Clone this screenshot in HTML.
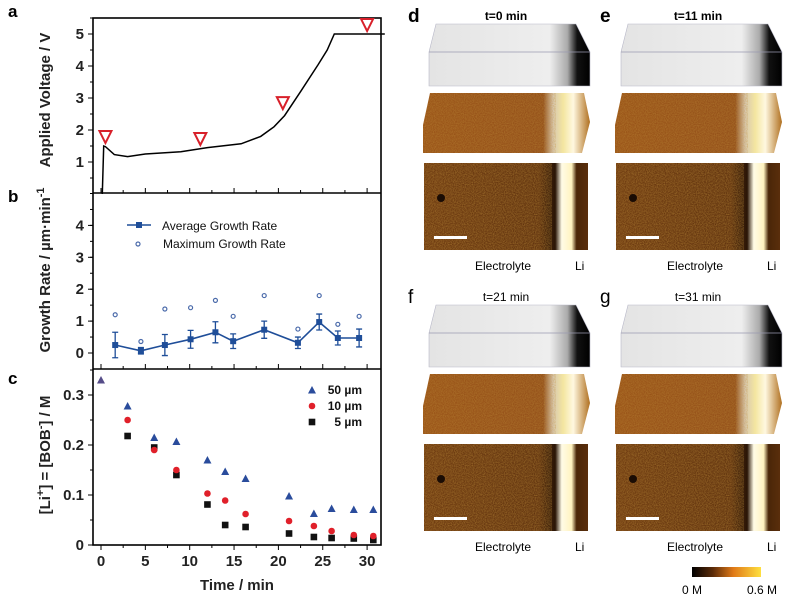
<!DOCTYPE html>
<html><head><meta charset="utf-8"><style>
body{margin:0;background:#fff;width:792px;height:610px;overflow:hidden;font-family:"Liberation Sans",Arial,sans-serif}
svg{position:absolute;left:0;top:0}
</style></head><body>
<svg width="792" height="610" viewBox="0 0 792 610" font-family="Liberation Sans, Arial, sans-serif">
<defs>
<filter id="noise" x="0" y="0" width="100%" height="100%"><feTurbulence type="fractalNoise" baseFrequency="0.9" numOctaves="2" seed="3"/><feColorMatrix type="matrix" values="0 0 0 0 0.55  0 0 0 0 0.3  0 0 0 0 0.05  0 0 0 1.2 -0.3"/><feComposite in2="SourceGraphic" operator="in"/></filter>
<linearGradient id="grey" x1="0" x2="1"><stop offset="0" stop-color="#e4e4e4"/><stop offset="0.75" stop-color="#eeeeee"/><stop offset="0.86" stop-color="#aaa"/><stop offset="0.92" stop-color="#111"/><stop offset="1" stop-color="#000"/></linearGradient>
<linearGradient id="orange" x1="0" x2="1"><stop offset="0" stop-color="#9a5418"/><stop offset="0.72" stop-color="#94501a"/><stop offset="0.78" stop-color="#d8c8b0"/><stop offset="0.84" stop-color="#f4e6a0"/><stop offset="0.9" stop-color="#fff8e0"/><stop offset="1" stop-color="#b07020"/></linearGradient>
<linearGradient id="flat" x1="0" x2="1"><stop offset="0" stop-color="#6e3a10"/><stop offset="0.7" stop-color="#60320e"/><stop offset="0.8" stop-color="#2a1506"/><stop offset="0.84" stop-color="#fffbe6"/><stop offset="0.9" stop-color="#fff3c0"/><stop offset="0.93" stop-color="#4a2608"/><stop offset="1" stop-color="#5a2e0c"/></linearGradient>
<linearGradient id="cbar" x1="0" x2="1"><stop offset="0" stop-color="#000"/><stop offset="0.3" stop-color="#5a2a08"/><stop offset="0.6" stop-color="#e07a18"/><stop offset="1" stop-color="#ffe040"/></linearGradient>
</defs>
<g id="left"></g>
<g id="right"></g>
</svg>
<script>
// ---- data ----
const voltT = [0.15,0.3,0.5,1.5,3,5,9,12,15.8,18,19.5,20.7,22.5,24.5,25.5,26.3,32];
const voltV = [0,1.5,1.48,1.23,1.17,1.25,1.32,1.45,1.57,1.8,2.1,2.45,3.2,4.05,4.5,5.0,5.0];
const markT = [0.5,11.2,20.5,30];
const markV = [1.78,1.72,2.84,5.28];
const growT = [1.6,4.5,7.2,10.1,12.9,14.9,18.4,22.2,24.6,26.7,29.1];
const growAvg = [0.25,0.07,0.25,0.43,0.65,0.37,0.73,0.32,0.97,0.47,0.47];
const growErr = [0.4,0.1,0.33,0.28,0.33,0.23,0.27,0.18,0.25,0.22,0.28];
const growMax = [1.2,0.36,1.38,1.42,1.65,1.15,1.8,0.75,1.8,0.9,1.15];
const concT = [0,3,6,8.5,12,14,16.3,21.2,24,26,28.5,30.7];
const c50 = [0.33,0.278,0.215,0.207,0.17,0.147,0.133,0.098,0.063,0.073,0.071,0.071];
const c10 = [null,0.25,0.19,0.15,0.103,0.089,0.062,0.048,0.038,0.028,0.02,0.018];
const c5 = [null,0.218,0.195,0.14,0.081,0.04,0.036,0.023,0.016,0.014,0.013,0.01];
const xTicks = [0,5,10,15,20,25,30];
const aTicks = [1,2,3,4,5];
const bTicks = [0,1,2,3,4];
const cTicks = [0,0.1,0.2,0.3];
const cTickLabels = ["0","0.1","0.2","0.3"];

const NS="http://www.w3.org/2000/svg";
function mk(parent,tag,attrs,text){const e=document.createElementNS(NS,tag);for(const k in attrs)e.setAttribute(k,attrs[k]);if(text!=null)e.textContent=text;parent.appendChild(e);return e;}
const L=document.getElementById('left');
const X0=93,X1=381;
const xs=t=>101+t*8.87;
const ya=v=>194-v*32;
const yb=v=>353-v*31.9;
const yc=v=>545-v*500;
// frame
let fr=mk(L,'rect',{x:X0,y:18,width:X1-X0,height:527,fill:'none',stroke:'#000','stroke-width':1.6});

let d1=mk(L,'line',{x1:X0,x2:X1,y1:193,y2:193,stroke:'#000','stroke-width':1.6});

let d2=mk(L,'line',{x1:X0,x2:X1,y1:369,y2:369,stroke:'#000','stroke-width':1.6});

// x ticks
for(let t=0;t<=32;t+=2.5){const maj=t%5===0;
 for(const yy of [193,369,545]){let tk=mk(L,'line',{x1:xs(t),x2:xs(t),y1:yy,y2:yy+(yy===545?(maj?5:3):(maj?-5:-3)),stroke:'#000','stroke-width':1});
 }}
xTicks.forEach(t=>{let tl=mk(L,'text',{x:xs(t),y:566,'text-anchor':'middle','font-size':15,'font-weight':'bold',fill:'#222'},String(t));
 });
let xt=mk(L,'text',{x:237,y:590,'text-anchor':'middle','font-size':15,'font-weight':'bold',fill:'#222'},'Time / min');

function yTicks(arr,fn,labels,minorStep,lo,hi){
 for(let v=lo;v<=hi+1e-9;v+=minorStep){let tk=mk(L,'line',{x1:X0,x2:X0-3,y1:fn(v),y2:fn(v),stroke:'#000','stroke-width':1});
  }
 arr.forEach((v,i)=>{let tk=mk(L,'line',{x1:X0,x2:X0-5,y1:fn(v),y2:fn(v),stroke:'#000','stroke-width':1});
  
  let tl=mk(L,'text',{x:84,y:fn(v)+5,'text-anchor':'end','font-size':15,'font-weight':'bold',fill:'#222'},labels?labels[i]:String(v));
  });}
yTicks(aTicks,ya,null,0.5,0.5,5.5);
yTicks(bTicks,yb,null,0.5,0,5);
yTicks(cTicks,yc,cTickLabels,0.05,0,0.35);
function ytitle(txt,y,name){let t=mk(L,'text',{transform:`translate(50,${y}) rotate(-90)`,'text-anchor':'middle','font-size':15,'font-weight':'bold',fill:'#222'},txt);
 return t;}
ytitle('Applied Voltage / V',100,'y-axis-title-a');
let tb=ytitle('Growth Rate / µm·min',270,'y-axis-title-b');
let ts=mk(tb,'tspan',{dy:-6,'font-size':11},'-1');

let tc=ytitle('',455,'y-axis-title-c');
tc.innerHTML='[Li<tspan dy="-6" font-size="11">+</tspan><tspan dy="6">] = [BOB</tspan><tspan dy="-6" font-size="11">-</tspan><tspan dy="6">] / M</tspan>';
[['a',8,17],['b',8,202],['c',8,384]].forEach(([s,x,y])=>{let t=mk(L,'text',{x:x,y:y,'font-size':17,'font-weight':'bold'},s);
 });
// panel a
let pts=voltT.map((t,i)=>xs(t).toFixed(1)+','+ya(voltV[i]).toFixed(1)).join(' ');
let vl=mk(L,'polyline',{points:pts,fill:'none',stroke:'#000','stroke-width':1.5});

markT.forEach((t,i)=>{const x=xs(t),y=ya(markV[i]);
 let m=mk(L,'polygon',{points:`${x-6},${y-6} ${x+6},${y-6} ${x},${y+6}`,fill:'none',stroke:'#d8202a','stroke-width':2});
 });
// panel b
const blue='#1f4e99';
let ap=growT.map((t,i)=>xs(t).toFixed(1)+','+yb(growAvg[i]).toFixed(1)).join(' ');
let al=mk(L,'polyline',{points:ap,fill:'none',stroke:blue,'stroke-width':1.6});

growT.forEach((t,i)=>{const x=xs(t);
 let eb=mk(L,'path',{d:`M${x},${yb(growAvg[i]-growErr[i])}V${yb(growAvg[i]+growErr[i])}M${x-3},${yb(growAvg[i]-growErr[i])}h6M${x-3},${yb(growAvg[i]+growErr[i])}h6`,stroke:blue,'stroke-width':1.3,fill:'none'});
 
 let s=mk(L,'rect',{x:x-3,y:yb(growAvg[i])-3,width:6,height:6,fill:blue});
 
 let c=mk(L,'circle',{cx:x,cy:yb(growMax[i]),r:2,fill:'none',stroke:'#4a6aaa','stroke-width':1.2});
 });
let lg1=mk(L,'path',{d:'M127,225h24',stroke:blue,'stroke-width':1.6});

let lg1s=mk(L,'rect',{x:136,y:222,width:6,height:6,fill:blue});

let lt1=mk(L,'text',{x:162,y:230,'font-size':12,fill:'#111'},'Average Growth Rate');

let lc=mk(L,'circle',{cx:138,cy:244,r:2,fill:'none',stroke:'#4a6aaa','stroke-width':1.2});

let lt2=mk(L,'text',{x:163,y:248,'font-size':12,fill:'#111'},'Maximum Growth Rate');

// panel c
function tri(x,y,col,name){let p=mk(L,'polygon',{points:`${x-4},${y+3.5} ${x+4},${y+3.5} ${x},${y-4}`,fill:col});}
function dot(x,y,col,name){let p=mk(L,'circle',{cx:x,cy:y,r:3.3,fill:col});}
function sq(x,y,col,name){let p=mk(L,'rect',{x:x-3.3,y:y-3.3,width:6.6,height:6.6,fill:col});}
concT.forEach((t,i)=>{
 if(c5[i]!=null)sq(xs(t),yc(c5[i]),'#111','point-5um');
 if(c10[i]!=null)dot(xs(t),yc(c10[i]),'#e0202a','point-10um');
 if(c50[i]!=null)tri(xs(t),yc(c50[i]),i===0?'#554c88':'#2a4c9c','point-50um');});
tri(312,390,'#2a4c9c','legend-50um-marker');dot(312,406,'#e0202a','legend-10um-marker');sq(312,422,'#111','legend-5um-marker');
[['50 µm',394],['10 µm',410],['5 µm',426]].forEach(([s,y])=>{let t=mk(L,'text',{x:362,y:y,'text-anchor':'end','font-size':12,'font-weight':'bold',fill:'#111'},s);
 });

// ---- right image panels ----
const R=document.getElementById('right');
const panels=[['d','t=0 min',0,0],['e','t=11 min',192,0],['f','t=21 min',0,281],['g','t=31 min',192,281]];
panels.forEach(([lab,title,dx,dy])=>{
 const g=mk(R,'g',{transform:`translate(${dx},${dy})`});
 
 let pl=mk(g,'text',{x:408,y:22,'font-size':19,'font-weight':lab<'f'?'bold':'normal'},lab);
 
 let tt=mk(g,'text',{x:506,y:20,'text-anchor':'middle','font-size':12,'font-weight':lab<'f'?'bold':'normal'},title);
 
 let gb=mk(g,'path',{d:'M436,24H576L590,52V86H429V52Z',fill:'url(#grey)',stroke:'#b8b8c8','stroke-width':0.6});
 
 let ge=mk(g,'line',{x1:429,x2:590,y1:52,y2:52,stroke:'#9a9ab0','stroke-width':0.8});
 
 let ob=mk(g,'path',{d:'M430,93H584L590,122L582,153H423V125Z',fill:'url(#orange)'});
 
 let on=mk(g,'path',{d:'M430,93H556V153H423V125Z',fill:'#a05a1c',filter:'url(#noise)',opacity:0.6});
 
 let fl=mk(g,'rect',{x:424,y:163,width:164,height:87,fill:'url(#flat)'});
 
 let fn=mk(g,'rect',{x:424,y:163,width:128,height:87,fill:'#804818',filter:'url(#noise)',opacity:0.7});
 
 let sp=mk(g,'circle',{cx:441,cy:198,r:4,fill:'#1a0c04'});
 
 let sb=mk(g,'rect',{x:434,y:236,width:33,height:3,fill:'#fff'});
 
 let el=mk(g,'text',{x:503,y:270,'text-anchor':'middle','font-size':12},'Electrolyte');
 
 let li=mk(g,'text',{x:575,y:270,'font-size':12},'Li');
 
});
let cb=mk(R,'rect',{x:692,y:567,width:69,height:10,fill:'url(#cbar)'});

let cl0=mk(R,'text',{x:692,y:594,'text-anchor':'middle','font-size':12},'0 M');

let cl1=mk(R,'text',{x:762,y:594,'text-anchor':'middle','font-size':12},'0.6 M');

</script>
</body></html>
